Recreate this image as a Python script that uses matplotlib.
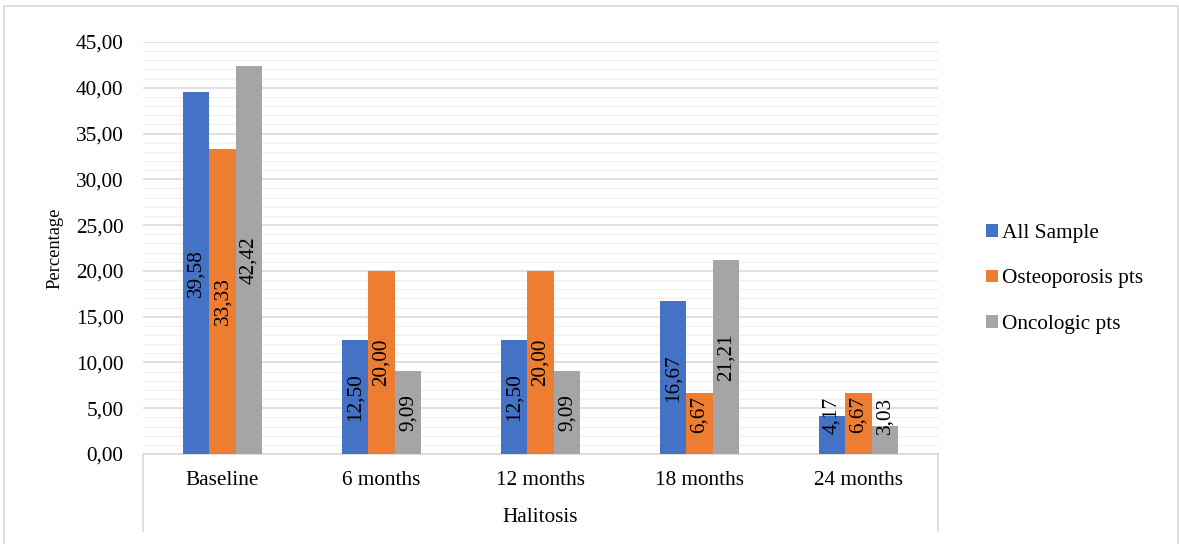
import matplotlib
matplotlib.use("Agg")
import matplotlib.pyplot as plt
from matplotlib.lines import Line2D
from matplotlib.patches import Rectangle
from matplotlib.ticker import MultipleLocator, FuncFormatter
import numpy as np

categories = ["Baseline", "6 months", "12 months", "18 months", "24 months"]
series_names = ["All Sample", "Osteoporosis pts", "Oncologic pts"]
all_sample = [39.58, 12.50, 12.50, 16.67, 4.17]
osteoporosis = [33.33, 20.00, 20.00, 6.67, 6.67]
oncologic = [42.42, 9.09, 9.09, 21.21, 3.03]
colors = ["#4472C4", "#ED7D31", "#A5A5A5"]

plt.rcParams["font.family"] = ["Liberation Serif", "DejaVu Serif"]

W, H = 1179, 544
fig = plt.figure(figsize=(W / 100, H / 100), dpi=100)

ax_left, ax_right = 143 / W, 938 / W
ax_bottom, ax_top = 1 - 454 / H, 1 - 42 / H
ax = fig.add_axes([ax_left, ax_bottom, ax_right - ax_left, ax_top - ax_bottom])

# lowest centre a value label may sit at, so its box stays inside the plot area
min_label_centre = 4.26

x = np.arange(len(categories))
bw = 0.167
values = [all_sample, osteoporosis, oncologic]
for i, (vals, name, col) in enumerate(zip(values, series_names, colors)):
    pos = x + (i - 1) * bw
    bars = ax.bar(pos, vals, width=bw, color=col, label=name, zorder=3)
    for b, v in zip(bars, vals):
        ax.text(b.get_x() + b.get_width() / 2, max(v / 2, min_label_centre),
                f"{v:.2f}".replace(".", ","),
                rotation=90, ha="center", va="center", fontsize=15.3,
                color="black", zorder=4)

ax.set_xlim(-0.5, len(categories) - 0.5)
ax.set_ylim(0, 45)
ax.yaxis.set_major_locator(MultipleLocator(5))
ax.yaxis.set_minor_locator(MultipleLocator(1))
ax.yaxis.set_major_formatter(FuncFormatter(lambda v, p: f"{v:.2f}".replace(".", ",")))
ax.grid(axis="y", which="major", color="#D9D9D9", linewidth=1.2, zorder=0)
ax.grid(axis="y", which="minor", color="#F0F0F0", linewidth=1.0, zorder=0)
ax.set_axisbelow(True)

for s in ["top", "right", "left"]:
    ax.spines[s].set_visible(False)
ax.spines["bottom"].set_color("#D9D9D9")
ax.spines["bottom"].set_linewidth(1.2)

ax.tick_params(axis="y", which="both", length=0, labelsize=15.3, pad=14)
ax.tick_params(axis="x", length=0, labelsize=15.3, pad=12)
ax.set_xticks(x)
ax.set_xticklabels(categories)

fig.text(55 / W, (ax_bottom + ax_top) / 2, "Percentage", rotation=90,
         ha="center", va="center", fontsize=13.3)

# box under the category axis
for xp in (ax_left, ax_right):
    fig.add_artist(Line2D([xp, xp], [ax_bottom, 1 - 531 / H],
                          transform=fig.transFigure, color="#D9D9D9", linewidth=1.2))
fig.text((ax_left + ax_right) / 2, 1 - 518 / H, "Halitosis", ha="center",
         va="center", fontsize=15.3)

# chart area border
fig.add_artist(Rectangle((4 / W, -0.01), (1177.5 - 4) / W, 1 - 5.5 / H + 0.01,
                         transform=fig.transFigure, fill=False,
                         edgecolor="#D9D9D9", linewidth=1.2))

leg = fig.legend(loc="center left", bbox_to_anchor=(967 / W, 1 - 279 / H),
                 frameon=False, fontsize=15.3, handlelength=0.55, handleheight=0.55,
                 handletextpad=0.2, labelspacing=1.25)

fig.savefig("out.png", dpi=100)
